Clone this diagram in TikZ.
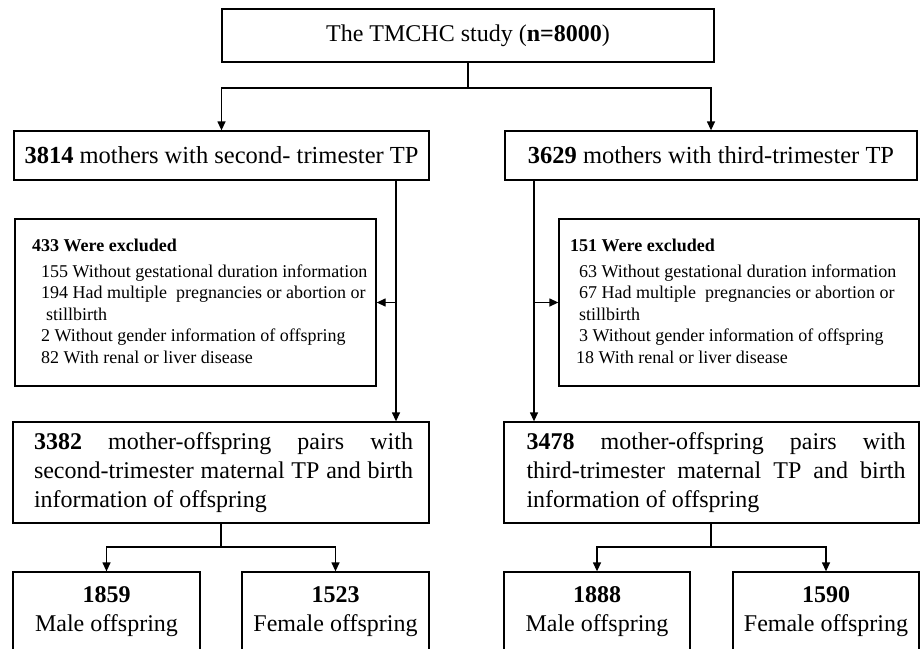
\documentclass[tikz,border=0pt]{standalone}
\usepackage{fontspec}
\setmainfont{Liberation Serif}
\usetikzlibrary{arrows.meta}
\begin{document}
\begin{tikzpicture}[x=1pt,y=-1pt,
  box/.style={draw=black,line width=1.3pt,inner sep=0pt,rectangle},
  big/.style={font=\fontsize{24}{29}\selectfont},
  small/.style={font=\fontsize{18}{21.5}\selectfont},
  arr/.style={line width=1.3pt,-{Triangle[length=9pt,width=8pt]}},
  ln/.style={line width=1.3pt}]
\useasboundingbox (0,0) rectangle (923,648);
% boxes
\node[box,big,minimum width=492pt,minimum height=53pt] (top) at (468,35.5) {The TMCHC study (\textbf{n=8000})};
\node[box,font=\fontsize{24.5}{29}\selectfont,minimum width=415pt,minimum height=49pt] (b2L) at (221.5,155.5) {\textbf{3814} mothers with second- trimester TP};
\node[box,font=\fontsize{24.5}{29}\selectfont,minimum width=412pt,minimum height=49pt] (b2R) at (711,155.5) {\textbf{3629} mothers with third-trimester TP};
\node[box,minimum width=361pt,minimum height=167pt] (exL) at (195.5,302.5) {};
\node[box,minimum width=360pt,minimum height=167pt] (exR) at (739,302.5) {};
\node[small,anchor=north west,inner sep=0pt,align=left] (exLt) at (32,238.7)
  {\textbf{433 Were excluded}\\[4.5pt]
   \hspace*{9pt}155 Without gestational duration information\\
   \hspace*{9pt}194 Had multiple\ \ pregnancies or abortion or\\
   \hspace*{14pt}stillbirth\\
   \hspace*{9pt}2 Without gender information of offspring\\
   \hspace*{9pt}82 With renal or liver disease};
\node[small,anchor=north west,inner sep=0pt,align=left] (exRt) at (570,238.7)
  {\textbf{151 Were excluded}\\[4.5pt]
   \hspace*{9pt}63 Without gestational duration information\\
   \hspace*{9pt}67 Had multiple\ \ pregnancies or abortion or\\
   \hspace*{9pt}stillbirth\\
   \hspace*{9pt}3 Without gender information of offspring\\
   \hspace*{6pt}18 With renal or liver disease};
\node[box,minimum width=416pt,minimum height=101pt] (b3L) at (221,472.5) {};
\node[big,inner sep=0pt,text width=379pt,align=justify] (b3Lt) at (223.5,472.5)
  {\tolerance=10000 \hyphenpenalty=10000 \exhyphenpenalty=10000
   \textbf{3382} mother-offspring pairs with\linebreak second-trimester maternal TP and birth\linebreak information of offspring};
\node[box,minimum width=415pt,minimum height=101pt] (b3R) at (711.5,472.5) {};
\node[big,inner sep=0pt,text width=379pt,align=justify] (b3Rt) at (716,472.5)
  {\tolerance=10000 \hyphenpenalty=10000 \exhyphenpenalty=10000
   \textbf{3478} mother-offspring pairs with\linebreak third-trimester maternal TP and birth\linebreak information of offspring};
\node[box,big,align=center,minimum width=187pt,minimum height=80pt] (m1) at (106.5,612) {\textbf{1859}\\Male offspring};
\node[box,big,align=center,minimum width=187pt,minimum height=80pt] (f1) at (335.5,612) {\textbf{1523}\\Female offspring};
\node[box,big,align=center,minimum width=186pt,minimum height=80pt] (m2) at (597,612) {\textbf{1888}\\Male offspring};
\node[box,big,align=center,minimum width=186pt,minimum height=80pt] (f2) at (826,612) {\textbf{1590}\\Female offspring};
% connectors
\coordinate (j1) at (468,88);
\draw[ln] (top.south) -- (j1);
\draw[arr] (j1) -| (b2L.north);
\draw[arr] (j1) -| (b2R.north);
\coordinate (cL) at (396,0);
\coordinate (cR) at (534,0);
\draw[arr] (b2L.south -| cL) -- (b3L.north -| cL);
\draw[arr] (exL.east -| cL) -- (exL.east);
\draw[arr] (b2R.south -| cR) -- (b3R.north -| cR);
\draw[arr] (exR.west -| cR) -- (exR.west);
\coordinate (j2) at (221,547);
\draw[ln] (b3L.south) -- (j2);
\draw[arr] (j2) -| (m1.north);
\draw[arr] (j2) -| (f1.north);
\coordinate (j3) at (711,547);
\draw[ln] (b3R.south -| j3) -- (j3);
\draw[arr] (j3) -| (m2.north);
\draw[arr] (j3) -| (f2.north);
\end{tikzpicture}
\end{document}
